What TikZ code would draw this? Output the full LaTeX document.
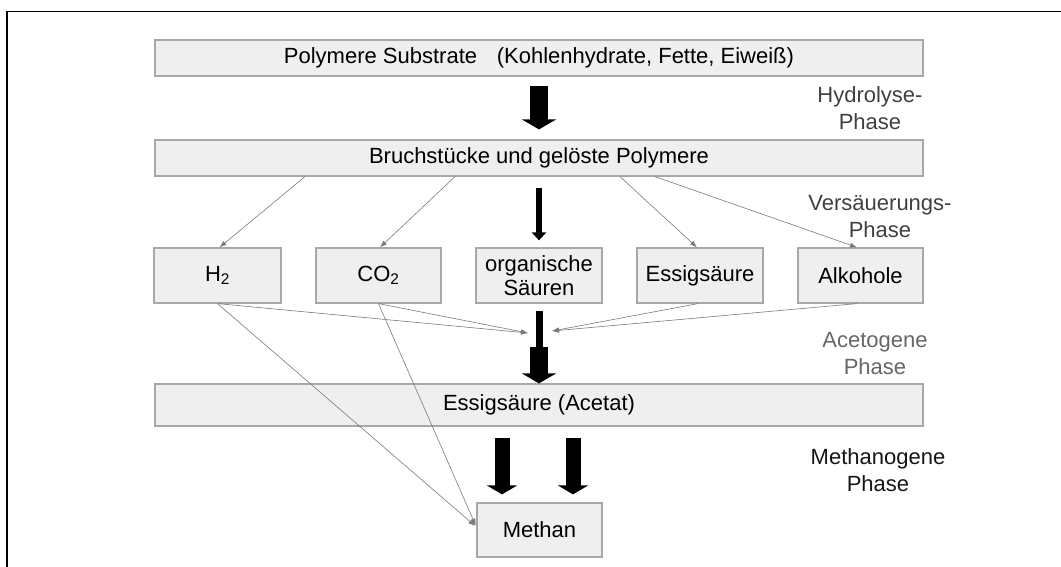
\documentclass[tikz,border=0pt]{standalone}
\usepackage{fontspec}
\setmainfont{Liberation Sans}
\usetikzlibrary{arrows.meta}
\definecolor{boxfill}{HTML}{EFEFEF}
\definecolor{boxline}{HTML}{A8A8A8}
\definecolor{thinline}{HTML}{7A7A7A}
\definecolor{phasedark}{HTML}{404040}
\definecolor{phaselight}{HTML}{666666}
\definecolor{phaseblack}{HTML}{151515}
\begin{document}
\begin{tikzpicture}[x=1pt,y=-1pt,
  every node/.style={font=\fontsize{22}{24}\selectfont},
  box/.style={draw=boxline,fill=boxfill,line width=1.2pt,inner sep=0pt,align=center,text=black},
  widebox/.style={box,minimum width=768pt},
  smallbox/.style={box,minimum width=126pt,minimum height=55pt},
  phase/.style={align=center,font=\fontsize{22}{27}\selectfont},
  thinarrow/.style={draw=thinline,line width=0.6pt,-{Latex[length=7pt,width=5pt]}},
  bigarrow/.style={line width=18pt,-{Triangle[width=34pt,length=10pt]}},
  midarrow/.style={line width=15pt,-{Triangle[width=30pt,length=9pt]}},
  slimarrow/.style={line width=6pt,-{Triangle[width=14pt,length=8pt]}}]
\useasboundingbox (0,0) rectangle (1061,567);
% frame (cut off at right and bottom)
\draw[line width=1.5pt] (7,567) -- (7,11.5) -- (1061,11.5);

% boxes
\node[widebox,minimum height=36pt] (top) at (539,58) {Polymere Substrate\hspace{0.9em}(Kohlenhydrate, Fette, Eiweiß)};
\node[widebox,minimum height=36pt] (bruch) at (539,158) {Bruchstücke und gelöste Polymere};
\node[smallbox,minimum width=127pt] (h2) at (217.5,275.5) {H\textsubscript{2}};
\node[smallbox,minimum width=125pt] (co2) at (378.5,275.5) {CO\textsubscript{2}};
\node[smallbox] (org) at (539,275.5) {organische\\Säuren};
\node[smallbox] (ess) at (700,275.5) {Essigsäure};
\node[smallbox,minimum width=125pt] (alk) at (860.5,275.5) {Alkohole};
\node[widebox,minimum height=42pt] (acetat) at (539,405) {Essigsäure (Acetat)};
\node[box,minimum width=125pt,minimum height=54pt] (methan) at (539.5,530) {Methan};

% phase labels
\node[phase,text=phasedark] (hyd) at (870,108.5) {Hydrolyse-\\Phase};
\node[phase,text=phasedark] (vers) at (880,216.5) {Versäuerungs-\\Phase};
\node[phase,text=phaselight] (aceto) at (875,353.5) {Acetogene\\Phase};
\node[phase,text=phaseblack] (metha) at (878,470.5) {Methanogene\\Phase};

% thick arrows
\draw[bigarrow,shorten <=9pt,shorten >=10pt] (top.south) -- (bruch.north);
\draw[slimarrow,shorten <=11pt,shorten >=7pt] (bruch.south) -- (org.north);
\coordinate (mid) at (539,347);
\draw[line width=7pt,shorten <=7pt] (org.south) -- (mid);
\draw[bigarrow] (mid) -- (acetat.north);
\draw[midarrow,shorten <=11pt,shorten >=8pt] ([xshift=-37pt]acetat.south) -- ([xshift=-37pt]acetat.south |- methan.north);
\draw[midarrow,shorten <=11pt,shorten >=8pt] ([xshift=34pt]acetat.south) -- ([xshift=34pt]acetat.south |- methan.north);

% thin arrows from Bruchstuecke
\draw[thinarrow] ([xshift=-234pt]bruch.south) -- ([xshift=2pt]h2.north);
\draw[thinarrow] ([xshift=-84pt]bruch.south) -- ([xshift=1.5pt]co2.north);
\draw[thinarrow] ([xshift=81pt]bruch.south) -- ([xshift=-3pt]ess.north);
\draw[thinarrow] ([xshift=116pt]bruch.south) -- ([xshift=-3.5pt]alk.north);

% converging arrows
\coordinate (jl) at (528,333);
\coordinate (jr) at (552,331);
\draw[thinarrow] (h2.south) -- (jl);
\draw[thinarrow] (co2.south) -- (jl);
\draw[thinarrow] ([xshift=-2pt]ess.south) -- (jr);
\draw[thinarrow] ([xshift=-3.5pt]alk.south) -- (jr);

% to Methan
\draw[thinarrow,shorten >=1.5pt] (h2.south) -- ([yshift=3pt]methan.west);
\draw[thinarrow,shorten >=1.5pt] (co2.south) -- ([yshift=3pt]methan.west);
\end{tikzpicture}
\end{document}
